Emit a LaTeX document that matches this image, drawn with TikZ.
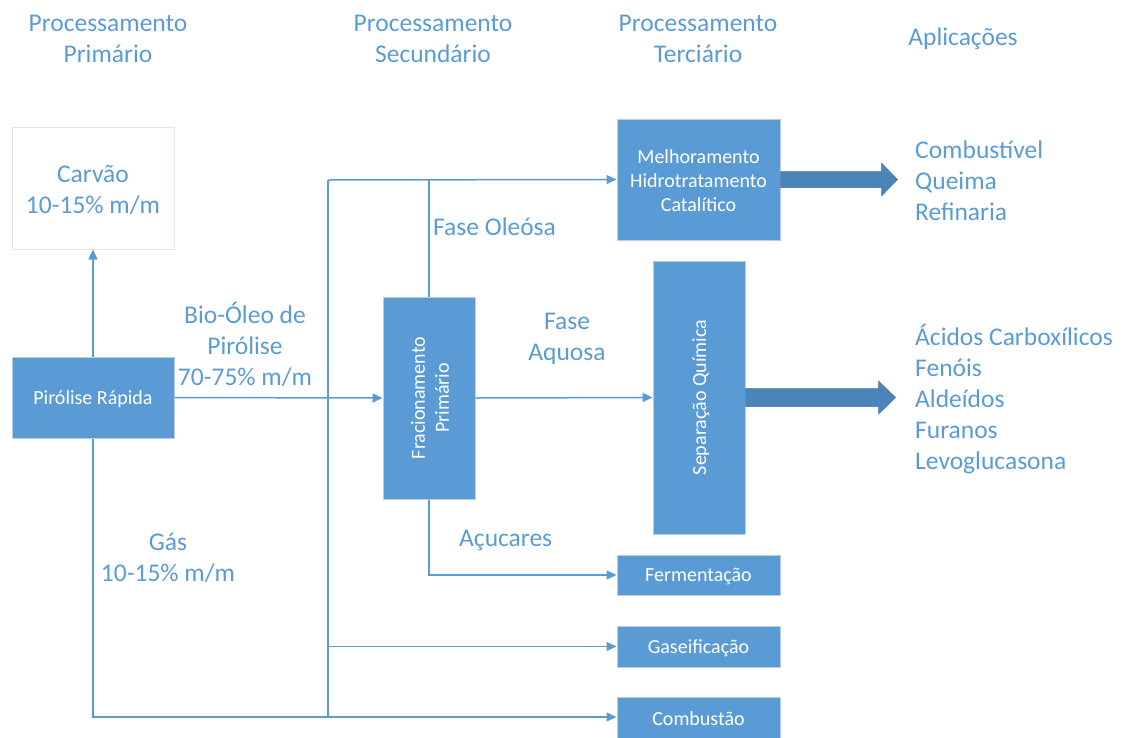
\documentclass[tikz,border=0pt]{standalone}
\usepackage{fontspec}
\setmainfont{Carlito}
\usetikzlibrary{arrows.meta,calc}
\definecolor{obl}{HTML}{5B9BD5}
\definecolor{obd}{HTML}{4A84B8}
\definecolor{obr}{HTML}{B8CDE8}
\definecolor{cbr}{HTML}{DCE5F3}
\begin{document}
\begin{tikzpicture}[x=1pt,y=-1pt,
  lbl/.style={text=obl,font=\fontsize{25.5}{31}\selectfont,align=center,inner sep=0pt},
  lbll/.style={text=obl,font=\fontsize{25.5}{31}\selectfont,align=left,inner sep=0pt},
  procbox/.style={fill=obl,draw=obr,line width=1pt,inner sep=0pt},
  boxtext/.style={text=white,font=\fontsize{20}{24}\selectfont,align=center,inner sep=0pt},
  line/.style={draw=obl,line width=1.5pt},
  conn/.style={line,-{Triangle[length=10pt,width=9pt]}},
  bigarrow/.style={fill=obd,draw=obd!90!black,line width=0.5pt}
]
\useasboundingbox (0,0) rectangle (1129,737);
% headers
\node[lbl] (h1) at (108,39) {Processamento\\Primário};
\node[lbl] (h2) at (433,39) {Processamento\\Secundário};
\node[lbl] (h3) at (698,39) {Processamento\\Terciário};
\node[lbl] (h4) at (963,39) {Aplicações};
% boxes
\node[draw=cbr,line width=1pt,fill=white,minimum width=162,minimum height=122,inner sep=0pt] (carvao) at (93,188) {};
\node[lbl] (carvaot) at (93,190) {Carvão\\10-15\% m/m};
\node[procbox,minimum width=162,minimum height=81] (pir) at (93,397.5) {};
\node[boxtext] (pirt) at (93,399) {Pirólise Rápida};
\node[procbox,minimum width=92,minimum height=202] (frac) at (429,398) {};
\node[boxtext,rotate=90] (fract) at (430,398) {Fracionamento\\Primário};
\node[procbox,minimum width=163,minimum height=121] (mel) at (698.5,179.5) {};
\node[boxtext] (melt) at (698.5,181) {Melhoramento\\Hidrotratamento\\Catalítico};
\node[procbox,minimum width=92,minimum height=273] (sep) at (699,397.5) {};
\node[boxtext,rotate=90] (sept) at (701,397.5) {Separação Química};
\node[procbox,minimum width=163,minimum height=40] (ferm) at (698.5,575) {};
\node[boxtext] (fermt) at (698.5,576.5) {Fermentação};
\node[procbox,minimum width=163,minimum height=41] (gas) at (698.5,646.5) {};
\node[boxtext] (gast) at (698.5,648) {Gaseificação};
\node[procbox,minimum width=163,minimum height=48,anchor=north] (combb) at (698.5,697) {};
\node[boxtext] (comb) at (698.5,718.5) {Combustão};
% labels
\node[lbl] (bio) at (245,344) {Bio-Óleo de\\Pirólise\\70-75\% m/m};
\node[lbl] (gasl) at (168,558) {Gás\\10-15\% m/m};
\node[lbll,anchor=west] (oleo) at (433,227) {Fase Oleósa};
\node[lbl] (aquo) at (567,339) {Fase\\Aquosa};
\node[lbll,anchor=west] (acu) at (459,540) {Açucares};
\node[lbll,anchor=west] (app1) at (915,181) {Combustível\\Queima\\Refinaria};
\node[lbll,anchor=west] (app2) at (915,399) {Ácidos Carboxílicos\\Fenóis\\Aldeídos\\Furanos\\Levoglucasona};
% junctions
\coordinate (jtop) at (328,180);
\coordinate (jbot) at (328,717);
% connectors
\draw[conn] (pir.north) -- (carvao.south);
\draw[conn] (pir.east) -- (frac.west);
\draw[line] (jtop) -- (jbot);
\draw[conn] (jtop) -- (mel.west);
\draw[line] (frac.north) -- (frac.north |- jtop);
\draw[conn] (frac.east) -- (sep.west);
\draw[conn] (frac.south) -- (frac.south |- ferm.west) -- (ferm.west);
\draw[conn] (jtop |- gas.west) -- (gas.west);
\draw[conn] (pir.south) -- (pir.south |- jbot) -- (combb.west |- jbot);
% big arrows
\draw[bigarrow] ($(mel.east)+(0,-8)$) -- ++(101,0) -- ++(0,-8.5) -- ++(16,16.5) -- ++(-16,16.5) -- ++(0,-8.5) -- ($(mel.east)+(0,8)$) -- cycle;
\draw[bigarrow] ($(sep.east)+(0,-9)$) -- ++(133,0) -- ++(0,-7.5) -- ++(17,16.5) -- ++(-17,16.5) -- ++(0,-7.5) -- ($(sep.east)+(0,9)$) -- cycle;
\end{tikzpicture}
\end{document}
